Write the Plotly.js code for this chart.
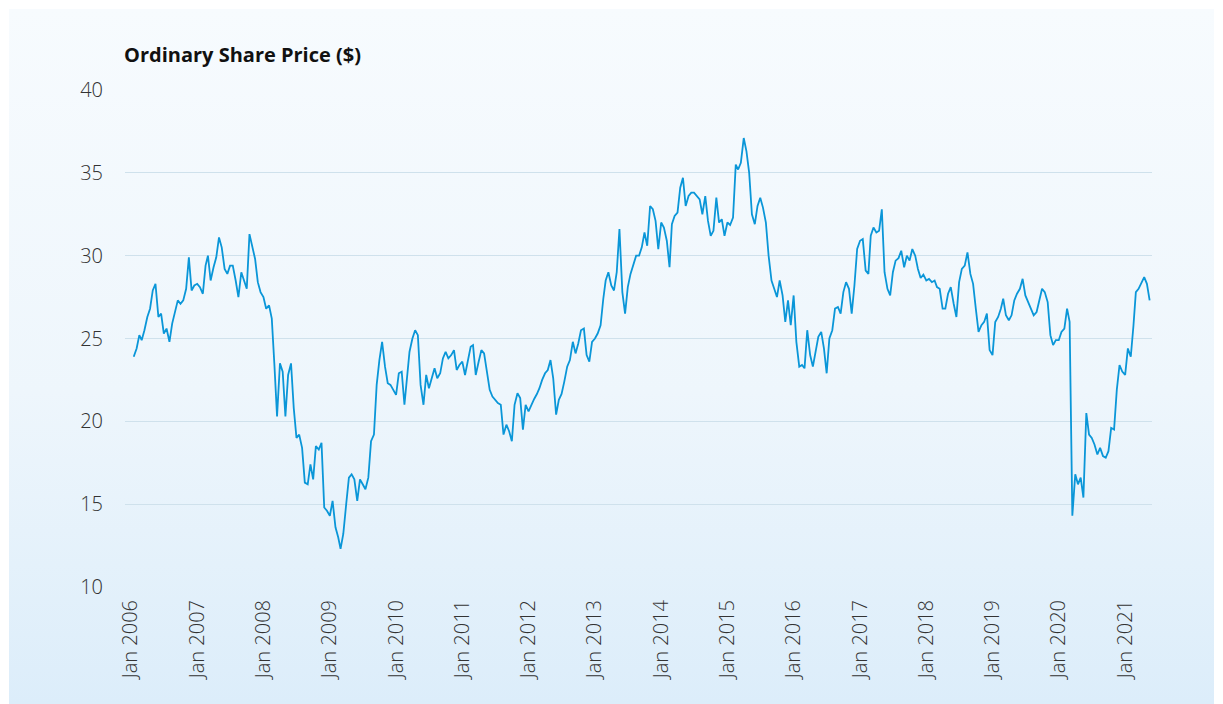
<!DOCTYPE html>
<html>
<head>
<meta charset="utf-8">
<script src="https://cdn.plot.ly/plotly-3.0.1.min.js"></script>
<style>
  html, body { margin: 0; padding: 0; width: 1223px; height: 704px; overflow: hidden; background: #ffffff; }
  #panel { position: absolute; left: 9px; top: 9px; width: 1205px; height: 695px;
           background: linear-gradient(to bottom, #f7fbfe 0%, #eef6fc 55%, #dcedfa 100%); }
  #chart { position: absolute; left: 0; top: 0; width: 1223px; height: 704px; }
</style>
</head>
<body>
<div id="panel"></div>
<div id="chart"></div>
<script>
// Half-monthly samples (1st and 16th of each month), starting 16 Jan 2006
const sampleStart = { year: 2006, halfMonthIndex: 1 };
const sharePrice = [
  23.9,24.4,25.2,24.9,25.5,26.3,26.8,27.9,28.3,26.3,26.5,25.3,25.6,24.8,25.9,26.7,27.3,27.1,27.3,28.0,
  29.9,27.9,28.2,28.3,28.1,27.7,29.4,30.0,28.5,29.3,29.9,31.1,30.5,29.2,28.9,29.4,29.4,28.5,27.5,29.0,
  28.5,28.0,31.3,30.5,29.8,28.4,27.8,27.5,26.8,27.0,26.2,23.5,20.3,23.5,23.0,20.3,22.8,23.5,20.8,19.0,
  19.2,18.4,16.3,16.2,17.4,16.5,18.5,18.3,18.7,14.8,14.6,14.3,15.2,13.6,13.0,12.3,13.2,15.0,16.6,16.8,
  16.5,15.2,16.5,16.2,15.9,16.6,18.8,19.2,22.2,23.7,24.8,23.3,22.3,22.2,21.9,21.6,22.9,23.0,21.0,22.6,
  24.2,25.0,25.5,25.2,22.2,21.0,22.8,22.0,22.6,23.2,22.6,22.9,23.8,24.2,23.8,24.0,24.3,23.1,23.4,23.6,
  22.8,23.7,24.5,24.6,22.8,23.6,24.3,24.1,23.0,21.9,21.5,21.3,21.1,21.0,19.2,19.8,19.4,18.8,21.0,21.7,
  21.4,19.5,21.0,20.6,21.0,21.35,21.65,22.0,22.5,22.9,23.1,23.7,22.6,20.4,21.3,21.65,22.4,23.3,23.7,24.8,
  24.1,24.7,25.5,25.6,24.0,23.6,24.8,25.0,25.3,25.8,27.4,28.5,29.0,28.2,27.9,29.0,31.6,27.8,26.5,28.1,
  28.9,29.55,30.0,30.0,30.5,31.4,30.6,33.0,32.8,32.1,30.4,32.0,31.7,30.9,29.3,31.9,32.4,32.6,34.1,34.7,
  33.0,33.6,33.8,33.8,33.6,33.4,32.5,33.6,32.1,31.2,31.5,33.5,32.0,32.2,31.2,32.0,31.85,32.3,35.5,35.2,
  35.6,37.1,36.3,35.0,32.5,31.9,33.0,33.5,32.9,32.0,30.0,28.5,28.0,27.5,28.5,27.6,26.0,27.3,25.8,27.6,
  24.8,23.3,23.4,23.2,25.5,24.0,23.3,24.2,25.1,25.4,24.4,22.9,25.0,25.5,26.8,26.9,26.5,27.8,28.4,28.0,
  26.5,28.2,30.4,30.9,31.0,29.1,28.9,31.2,31.7,31.4,31.5,32.8,29.0,28.0,27.6,29.0,29.7,29.85,30.3,29.3,
  30.0,29.7,30.4,30.0,29.2,28.65,28.85,28.5,28.6,28.4,28.5,28.1,28.0,26.8,26.8,27.7,28.1,27.1,26.3,28.4,
  29.2,29.4,30.2,28.9,28.3,26.8,25.4,25.8,26.0,26.5,24.3,24.0,26.0,26.3,26.8,27.4,26.4,26.1,26.4,27.3,
  27.7,28.0,28.6,27.6,27.2,26.8,26.4,26.6,27.4,28.0,27.8,27.2,25.2,24.6,24.9,24.9,25.4,25.6,26.8,26.0,
  14.3,16.8,16.2,16.6,15.4,20.5,19.2,19.0,18.6,18.0,18.4,17.9,17.8,18.2,19.6,19.5,21.9,23.4,23.0,22.8,
  24.4,23.9,25.8,27.8,28.0,28.4,28.7,28.3,27.3
];
const tickYears = [2006,2007,2008,2009,2010,2011,2012,2013,2014,2015,2016,2017,2018,2019,2020,2021];
const tickLabels = tickYears.map(y => 'Jan ' + y);
const yTicks = [10,15,20,25,30,35,40];

// build the half-month date grid
const dates = sharePrice.map((_, k) => {
  const i = sampleStart.halfMonthIndex + k;
  const yr = sampleStart.year + Math.floor(i / 24);
  const m = Math.floor((i % 24) / 2) + 1;
  const d = (i % 2) ? 16 : 1;
  return yr + '-' + String(m).padStart(2, '0') + '-' + String(d).padStart(2, '0');
});

const lightFont = 'Open Sans Light, Lato Light, Open Sans, sans-serif';

const trace = {
  x: dates, y: sharePrice, type: 'scatter', mode: 'lines',
  line: { color: '#0a96d8', width: 1.8 }, hoverinfo: 'x+y'
};

const layout = {
  width: 1223, height: 704,
  margin: { l: 125, r: 71, t: 90, b: 117 },
  paper_bgcolor: 'rgba(0,0,0,0)', plot_bgcolor: 'rgba(0,0,0,0)',
  showlegend: false,
  font: { family: 'Open Sans, sans-serif', color: '#333' },
  xaxis: {
    type: 'date',
    range: ['2005-11-29', '2021-05-29'],
    tickvals: tickYears.map(y => y + '-01-01'),
    ticktext: tickLabels,
    tickangle: -90,
    ticklabelstandoff: 8,
    tickfont: { size: 20, color: '#333', family: lightFont, weight: 300 },
    showgrid: false, zeroline: false, showline: false, ticks: '', ticklen: 0
  },
  yaxis: {
    range: [10, 40],
    tickvals: yTicks,
    ticklabelstandoff: 21,
    tickfont: { size: 20, color: '#333', family: lightFont, weight: 300 },
    showgrid: true, gridcolor: '#cfe1ec', gridwidth: 1.2,
    zeroline: false, showline: false, ticks: '', ticklen: 0
  },
  annotations: [{
    text: '<b>Ordinary Share Price ($)</b>',
    xref: 'paper', yref: 'paper', x: -0.003, y: 1.072,
    xanchor: 'left', yanchor: 'middle', showarrow: false,
    font: { size: 20, color: '#111', family: 'Open Sans, sans-serif' }
  }]
};

Plotly.newPlot('chart', [trace], layout, { displayModeBar: false, staticPlot: true });
</script>
</body>
</html>
